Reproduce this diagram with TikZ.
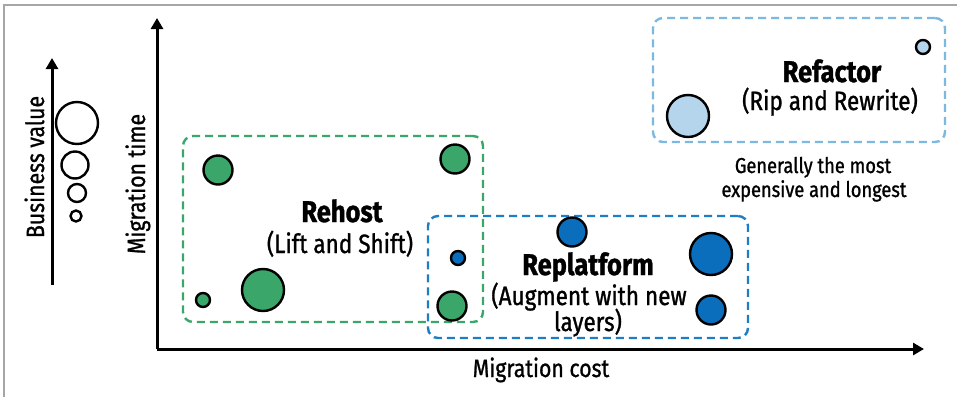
\documentclass[tikz,border=0pt]{standalone}
\usepackage{fontspec}
\setmainfont{Fira Sans}[FakeStretch=0.85, FakeBold=1.1]
\usetikzlibrary{positioning,arrows.meta}

\definecolor{hostgreen}{HTML}{3AA66A}
\definecolor{platblue}{HTML}{0A6EBD}
\definecolor{platline}{HTML}{1F7DC4}
\definecolor{factfill}{HTML}{B4D5EC}
\definecolor{factline}{HTML}{7DB8E0}

\tikzset{
  dot/.style={circle, draw=black, line width=2.4pt, inner sep=0pt, minimum size=#1},
  groupbox/.style={draw=#1, line width=2.4pt, dash pattern=on 8pt off 5pt, rounded corners=10pt, inner sep=0pt},
  axis/.style={line width=3pt, -{Triangle[length=11pt,width=12pt]}},
  lbl/.style={anchor=base, inner sep=0pt, font=\fontsize{25}{28}\selectfont},
  sub/.style={anchor=base, inner sep=0pt, font=\fontsize{26.5}{30}\selectfont},
  title/.style={anchor=base, inner sep=0pt, font=\fontsize{30}{33}\selectfont\bfseries},
  note/.style={anchor=base, inner sep=0pt, font=\fontsize{21.5}{24}\selectfont}
}

\begin{document}
\begin{tikzpicture}[x=1pt, y=-1pt]
    \useasboundingbox (0,0) rectangle (957,397);
    \draw[gray!70, line width=1.5pt] (4,397) -- (4,5) -- (957,5);

    % axes
    \coordinate (o) at (157,349);
    \coordinate (ytip) at (157,18);
    \coordinate (xtip) at (924,349);
    \draw[axis] (o) -- (ytip);
    \draw[axis] (o) -- (xtip);
    \node[lbl] (xlab) at (541,377) {Migration cost};
    \node[lbl, rotate=90] (ylab) at (145,184) {Migration time};

    % legend
    \coordinate (bvfoot) at (52,285);
    \coordinate (bvtip) at (52,58);
    \draw[axis] (bvfoot) -- (bvtip);
    \node[lbl, rotate=90] (bvlab) at (44,167) {Business value};
    \node[dot=42pt] (l1) at (77,123) {};
    \node[dot=27pt] (l2) at (75,165) {};
    \node[dot=18pt] (l3) at (77,193) {};
    \node[dot=11pt] (l4) at (76,216) {};

    % groups
    \node[groupbox=hostgreen, minimum width=300pt, minimum height=186pt] (rehost) at (333,229) {};
    \node[groupbox=platline, minimum width=320pt, minimum height=122pt] (replat) at (588,277) {};
    \node[groupbox=factline, minimum width=292pt, minimum height=124pt] (refact) at (799,80) {};

    % rehost
    \node[dot=29pt, fill=hostgreen] (g1) at (218,170) {};
    \node[dot=29pt, fill=hostgreen] (g2) at (455,159) {};
    \node[dot=42pt, fill=hostgreen] (g3) at (263,290) {};
    \node[dot=14pt, fill=hostgreen] (g4) at (203,300) {};
    \node[dot=29pt, fill=hostgreen] (g5) at (452,306) {};
    \node[title] (rehostT) at (342,222) {Rehost};
    \node[sub] (rehostS) at (340,253) {(Lift and Shift)};

    % replatform
    \node[dot=14pt, fill=platblue] (b1) at (458,258) {};
    \node[dot=29pt, fill=platblue] (b2) at (572,232) {};
    \node[dot=42pt, fill=platblue] (b3) at (711,254) {};
    \node[dot=29pt, fill=platblue] (b4) at (711,310) {};
    \node[title] (replatT) at (588,275) {Replatform};
    \node[sub] (replatS) at (589,305) {(Augment with new};
    \node[sub] (replatS2) at (588,331) {layers)};

    % refactor
    \node[dot=42pt, fill=factfill] (f1) at (688,116) {};
    \node[dot=14pt, fill=factfill] (f2) at (923,47) {};
    \node[title] (refactT) at (832,82) {Refactor};
    \node[sub] (refactS) at (830,110) {(Rip and Rewrite)};
    \node[note] (refactN) at (813,173) {Generally the most};
    \node[note] (refactN2) at (814,197) {expensive and longest};
\end{tikzpicture}
\end{document}
